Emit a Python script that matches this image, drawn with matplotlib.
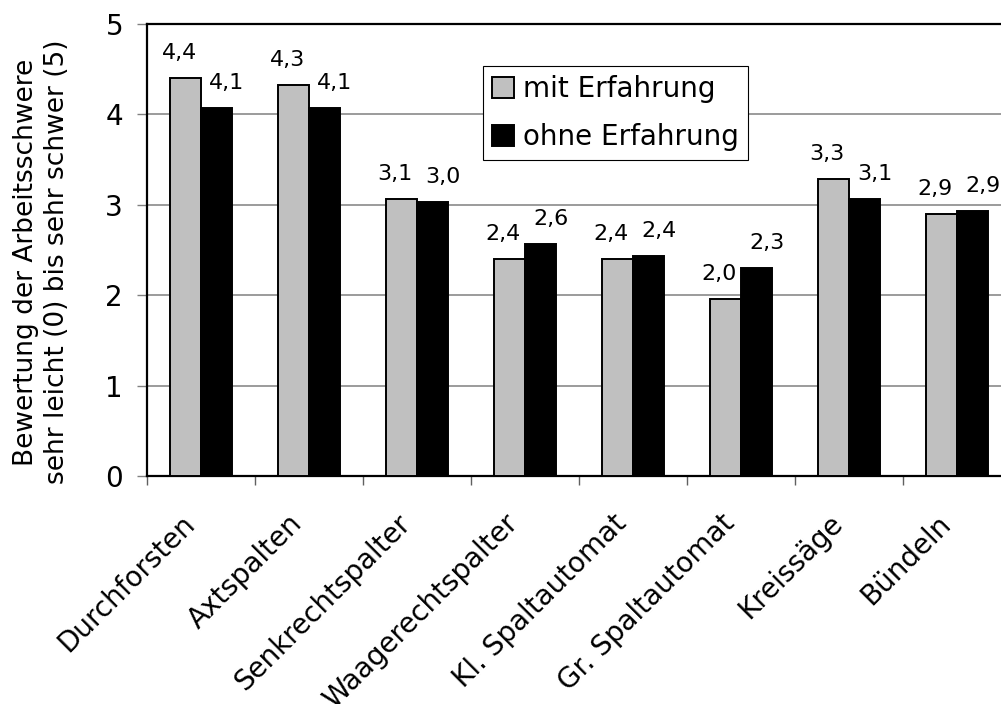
import matplotlib
matplotlib.use("Agg")
import matplotlib.pyplot as plt
import numpy as np
from matplotlib.transforms import ScaledTranslation

categories = ["Durchforsten", "Axtspalten", "Senkrechtspalter", "Waagerechtspalter",
              "Kl. Spaltautomat", "Gr. Spaltautomat", "Kreissäge", "Bündeln"]
mit_erfahrung = [4.40, 4.33, 3.06, 2.40, 2.40, 1.96, 3.29, 2.90]
ohne_erfahrung = [4.07, 4.07, 3.03, 2.57, 2.43, 2.30, 3.06, 2.93]
series_names = ["mit Erfahrung", "ohne Erfahrung"]
y_ticks = [0, 1, 2, 3, 4, 5]
y_label = "Bewertung der Arbeitsschwere\nsehr leicht (0) bis sehr schwer (5)"

plt.rcParams['font.family'] = ['DejaVu Sans']

W, H = 1001, 704
fig = plt.figure(figsize=(W / 100, H / 100), dpi=100)
ax = fig.add_axes([147 / W, 1 - 476 / H, (1011 - 147) / W, (476 - 24) / H])

x = np.arange(len(categories))
bw = 0.29
b1 = ax.bar(x - bw / 2, mit_erfahrung, bw, color="#C0C0C0", edgecolor="black",
            linewidth=1.4, label=series_names[0], zorder=3)
b2 = ax.bar(x + bw / 2, ohne_erfahrung, bw, color="black", edgecolor="black",
            linewidth=1.4, label=series_names[1], zorder=3)

def fmt(v):
    return f"{v:.1f}".replace(".", ",")

for rect, v in zip(b1, mit_erfahrung):
    ax.annotate(fmt(v), (rect.get_x() + rect.get_width() / 2, v),
                xytext=(-6, 19), textcoords="offset pixels",
                ha="center", va="baseline", fontsize=16, zorder=5)
for rect, v in zip(b2, ohne_erfahrung):
    ax.annotate(fmt(v), (rect.get_x() + rect.get_width() / 2, v),
                xytext=(10, 19), textcoords="offset pixels",
                ha="center", va="baseline", fontsize=16, zorder=5)

ax.set_xlim(-0.5, len(categories) - 0.5)
ax.set_ylim(0, 5)
ax.set_yticks(y_ticks)
ax.set_yticklabels([str(t) for t in y_ticks], fontsize=20)
ax.tick_params(axis="y", direction="out", length=7.2, width=1, color="#808080", pad=10)

ax.set_xticks(x)
ax.set_xticklabels(categories, fontsize=20, rotation=45, ha="right",
                   va="center", rotation_mode="anchor")
ax.tick_params(axis="x", which="major", length=0, pad=31)
ax.set_xticks(np.arange(-0.5, len(categories), 1.0), minor=True)
ax.tick_params(axis="x", which="minor", direction="out", length=6.5, width=1, color="#606060")
offset = ScaledTranslation(-11 / 100, 0, fig.dpi_scale_trans)
for lab in ax.get_xticklabels():
    lab.set_transform(lab.get_transform() + offset)

ax.yaxis.grid(True, color="#808080", linewidth=1.1)
ax.set_axisbelow(True)
for s in ax.spines.values():
    s.set_linewidth(1.6)
    s.set_color("black")

fig.text(42 / W, 1 - 262 / H, y_label, rotation=90, ha="center", va="center",
         multialignment="center", fontsize=19, linespacing=1.25)

leg = ax.legend(loc="upper left", bbox_to_anchor=(483 / W, 1 - 66 / H),
                bbox_transform=fig.transFigure, fontsize=20, frameon=True,
                fancybox=False, shadow=False, borderaxespad=0, borderpad=0.32,
                handlelength=0.78, handleheight=0.78, handletextpad=0.34,
                labelspacing=0.72)
leg.get_frame().set_edgecolor("black")
leg.get_frame().set_linewidth(0.8)
leg.get_frame().set_alpha(1)
leg.set_zorder(10)

fig.savefig("out.png", dpi=100)
